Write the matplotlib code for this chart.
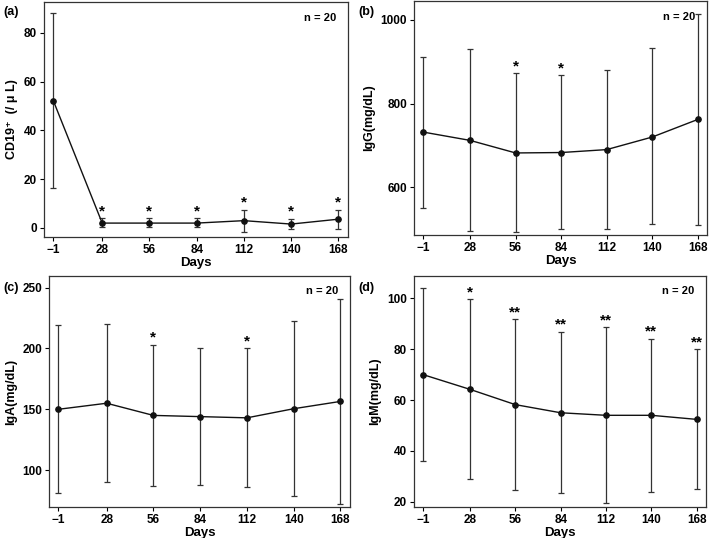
import matplotlib
matplotlib.use("Agg")
import matplotlib.pyplot as plt

plt.rcParams['font.family'] = ['Liberation Sans', 'Noto Sans CJK JP', 'DejaVu Sans']

days = [-1, 28, 56, 84, 112, 140, 168]
day_labels = ['\u22121', '28', '56', '84', '112', '140', '168']

cd19_mean = [52.2, 2.0, 2.0, 2.0, 3.0, 1.6, 3.6]
cd19_low = [16.5, 0.5, 0.2, 0.2, -1.5, -0.4, -0.4]
cd19_high = [88.0, 3.9, 4.0, 4.0, 7.5, 3.7, 7.4]
cd19_sig = ['', '*', '*', '*', '*', '*', '*']

igg_mean = [732, 712, 682, 683, 690, 720, 762]
igg_low = [551, 496, 492, 501, 500, 512, 510]
igg_high = [912, 930, 872, 868, 880, 932, 1015]
igg_sig = ['', '', '*', '*', '', '', '']

iga_mean = [150, 155, 145, 144, 143, 150.5, 156.5]
iga_low = [81, 90, 87, 87.5, 86.5, 79, 72]
iga_high = [219.5, 220.5, 203, 200, 200, 222.5, 240.5]
iga_sig = ['', '', '*', '', '*', '', '']

igm_mean = [70.0, 64.2, 58.2, 55.0, 54.0, 54.0, 52.4]
igm_low = [36.0, 28.9, 24.8, 23.5, 19.5, 24.0, 25.0]
igm_high = [104.0, 99.6, 91.8, 86.8, 88.5, 84.1, 80.0]
igm_sig = ['', '*', '**', '**', '**', '**', '**']

W, H = 709, 538
fig = plt.figure(figsize=(W / 100, H / 100), dpi=100)


def add_ax(l, t, r, b):
    return fig.add_axes([l / W, 1 - b / H, (r - l) / W, (b - t) / H])


panels = [
    dict(box=(44, 2, 348, 237), mean=cd19_mean, low=cd19_low, high=cd19_high, sig=cd19_sig,
         ylim=(-3.7, 92.6), yticks=[0, 20, 40, 60, 80], ylabel='CD19\u207a  (/ \u03bc L)',
         label='(a)', lab_xy=(3, 12)),
    dict(box=(414, 1, 707, 235), mean=igg_mean, low=igg_low, high=igg_high, sig=igg_sig,
         ylim=(486, 1045), yticks=[600, 800, 1000], ylabel='IgG(mg/dL)',
         label='(b)', lab_xy=(358, 12)),
    dict(box=(49, 276, 350, 507), mean=iga_mean, low=iga_low, high=iga_high, sig=iga_sig,
         ylim=(69.7, 259.6), yticks=[100, 150, 200, 250], ylabel='IgA(mg/dL)',
         label='(c)', lab_xy=(3, 288)),
    dict(box=(414, 276, 706, 507), mean=igm_mean, low=igm_low, high=igm_high, sig=igm_sig,
         ylim=(18.0, 108.7), yticks=[20, 40, 60, 80, 100], ylabel='IgM(mg/dL)',
         label='(d)', lab_xy=(358, 288)),
]

for p in panels:
    ax = add_ax(*p['box'])
    m = p['mean']
    yerr = [[mi - lo for mi, lo in zip(m, p['low'])], [hi - mi for mi, hi in zip(m, p['high'])]]
    ax.errorbar(days, m, yerr=yerr, fmt='-o', color='#111111', ecolor='#333333',
                elinewidth=0.9, capsize=2.2, capthick=0.9, markersize=3.8, lw=1.0)
    for d, hi, s in zip(days, p['high'], p['sig']):
        if s:
            ax.annotate(s, (d, hi), xytext=(0, 0), textcoords='offset points',
                        ha='center', va='bottom', fontsize=11, fontweight='bold')
    ax.set_xlim(-6.5, 173.7)
    ax.set_ylim(*p['ylim'])
    ax.set_xticks(days)
    ax.set_xticklabels(day_labels)
    ax.set_yticks(p['yticks'])
    ax.tick_params(labelsize=8.5, length=3, width=0.8, pad=2)
    for lab in ax.get_xticklabels() + ax.get_yticklabels():
        lab.set_fontweight('bold')
    for sp in ax.spines.values():
        sp.set_linewidth(0.9)
        sp.set_color('#333333')
    ax.set_xlabel('Days', fontsize=9.5, fontweight='bold', labelpad=1)
    ax.set_ylabel(p['ylabel'], fontsize=9, fontweight='bold', labelpad=4)
    ax.text(0.96, 0.955, 'n = 20', transform=ax.transAxes, ha='right', va='top',
            fontsize=8, fontweight='bold')
    fig.text(p['lab_xy'][0] / W, 1 - p['lab_xy'][1] / H, p['label'], fontsize=9,
             fontweight='bold', va='center', ha='left')

fig.savefig('out.png', dpi=100)
